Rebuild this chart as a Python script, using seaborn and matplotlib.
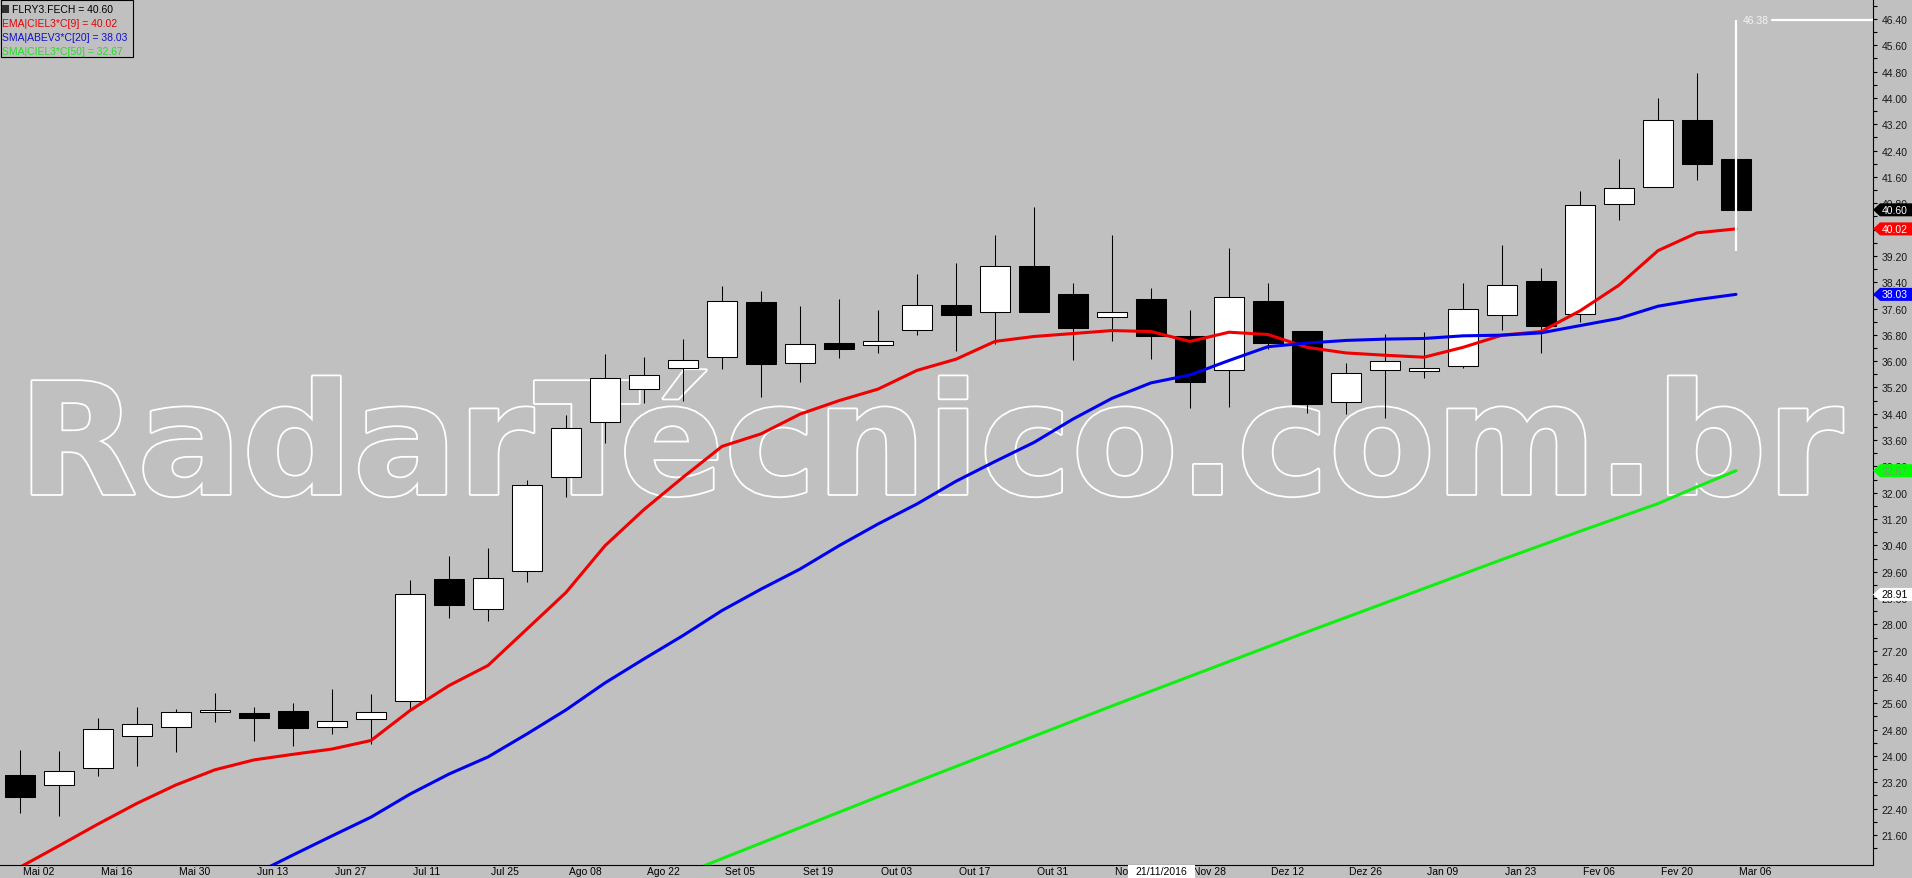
import numpy as np
import pandas as pd
import matplotlib
matplotlib.use("Agg")
import matplotlib.pyplot as plt
import seaborn as sns
from matplotlib.patches import Rectangle, Polygon
from matplotlib import patheffects as pe
from matplotlib.ticker import FixedLocator, FormatStrFormatter
from matplotlib.transforms import ScaledTranslation, blended_transform_factory

# FLRY3 weekly candles, Mai 02 2016 .. Mar 06 2017
WEEKS = ["Mai 02", "Mai 09", "Mai 16", "Mai 23", "Mai 30", "Jun 06", "Jun 13",
         "Jun 20", "Jun 27", "Jul 04", "Jul 11", "Jul 18", "Jul 25", "Ago 01",
         "Ago 08", "Ago 15", "Ago 22", "Ago 29", "Set 05", "Set 12", "Set 19",
         "Set 26", "Out 03", "Out 10", "Out 17", "Out 24", "Out 31", "Nov 07",
         "Nov 14", "Nov 21", "Nov 28", "Dez 05", "Dez 12", "Dez 19", "Dez 26",
         "Jan 02", "Jan 09", "Jan 16", "Jan 23", "Jan 30", "Fev 06", "Fev 13",
         "Fev 20", "Fev 27", "Mar 06"]

OPEN = [23.42, 23.11, 23.62, 24.60, 24.87, 25.33, 25.31, 25.36, 24.87, 25.11,
        25.66, 29.38, 28.47, 29.61, 32.47, 34.14, 35.14, 35.78, 36.14, 37.80,
        35.93, 36.55, 36.48, 36.94, 37.71, 37.49, 38.88, 38.03, 37.33, 37.89,
        36.76, 35.72, 37.83, 36.92, 34.75, 35.72, 35.69, 35.84, 37.39, 38.43,
        37.42, 40.77, 41.29, 43.32, 42.14]
HIGH = [24.18, 24.14, 25.14, 25.49, 25.43, 25.91, 25.49, 25.61, 26.04, 25.88,
        29.35, 30.08, 30.31, 32.39, 34.36, 36.22, 36.13, 36.67, 38.28, 38.13,
        37.68, 37.89, 37.55, 38.65, 38.98, 39.83, 40.69, 38.38, 39.83, 38.22,
        37.56, 39.44, 38.38, 36.92, 35.93, 36.83, 36.88, 38.38, 39.53, 38.82,
        41.16, 42.14, 44.00, 44.76, 42.14]
LOW = [22.28, 22.16, 23.40, 23.68, 24.13, 25.03, 24.44, 24.31, 24.68, 24.35,
       25.38, 28.20, 28.11, 29.30, 31.88, 33.52, 34.73, 34.79, 35.77, 34.92,
       35.38, 36.10, 36.26, 36.80, 36.32, 36.52, 37.48, 36.05, 36.61, 36.08,
       34.59, 34.62, 36.37, 34.41, 34.40, 34.27, 35.48, 35.78, 36.96, 36.26,
       37.18, 40.30, 41.29, 41.52, 40.60]
CLOSE = [22.76, 23.53, 24.81, 24.96, 25.35, 25.39, 25.16, 24.86, 25.05, 25.33,
         28.91, 28.60, 29.40, 32.23, 33.96, 35.48, 35.57, 36.03, 37.82, 35.92,
         36.51, 36.38, 36.61, 37.70, 37.41, 38.88, 37.48, 37.02, 37.50, 36.75,
         35.38, 37.94, 36.56, 34.71, 35.63, 35.99, 35.78, 37.60, 38.33, 37.06,
         40.74, 41.25, 43.32, 42.00, 40.60]

# indicator lines
EMA9 = [20.62, 21.27, 21.93, 22.56, 23.12, 23.58, 23.88, 24.05, 24.21, 24.47,
        25.38, 26.14, 26.75, 27.86, 28.97, 30.39, 31.49, 32.47, 33.41, 33.79,
        34.39, 34.80, 35.15, 35.72, 36.06, 36.60, 36.75, 36.84, 36.93, 36.90,
        36.60, 36.88, 36.81, 36.42, 36.25, 36.18, 36.12, 36.42, 36.79, 36.90,
        37.53, 38.31, 39.36, 39.90, 40.02]
SMA20_START = 6
SMA20 = [20.40, 20.99, 21.57, 22.14, 22.84, 23.45, 23.97, 24.67, 25.40, 26.22,
         26.95, 27.66, 28.42, 29.07, 29.68, 30.39, 31.05, 31.66, 32.35, 32.95,
         33.53, 34.24, 34.87, 35.34, 35.58, 36.02, 36.44, 36.55, 36.63, 36.67,
         36.69, 36.77, 36.79, 36.86, 37.08, 37.30, 37.67, 37.87, 38.03]
SMA50_START = 17
SMA50 = [20.40, 20.88, 21.35, 21.82, 22.29, 22.76, 23.22, 23.68, 24.14, 24.60,
         25.06, 25.52, 25.97, 26.42, 26.87, 27.32, 27.77, 28.21, 28.65, 29.09,
         29.53, 29.97, 30.40, 30.83, 31.25, 31.67, 32.18, 32.67]

PRICE_TICKS = [round(21.6 + 0.8 * k, 2) for k in range(32)]   # 21.60 .. 46.40

LEGEND = [("FLRY3.FECH = 40.60", "#000000"),
          ("EMA|CIEL3*C[9] = 40.02", "#e80000"),
          ("SMA|ABEV3*C[20] = 38.03", "#1010c8"),
          ("SMA|CIEL3*C[50] = 32.67", "#22e022")]
# right-axis value tags: value, face, text colour
TAGS = [(40.60, "#000000", "white"), (40.02, "#ff0000", "white"),
        (38.03, "#0000ff", "white"), (32.67, "#00ff00", "#7a9a7a"),
        (28.91, "#ffffff", "black")]
CURSOR_DATE = "21/11/2016"
CURSOR_WEEK = 29
DRAW_TOP = 46.38
DRAW_BOTTOM = 39.35

BG = "#c0c0c0"
RED, BLUE, GREEN = "#f00000", "#0000f0", "#11ee11"
W, H, DPI = 1912, 879, 100

sns.set_style("white", {"axes.facecolor": BG, "figure.facecolor": BG})
plt.rcParams["font.family"] = ["Liberation Sans", "DejaVu Sans"]

df = pd.DataFrame({"week": WEEKS, "open": OPEN, "high": HIGH,
                   "low": LOW, "close": CLOSE})
df["x"] = np.arange(len(df))

fig = plt.figure(figsize=(W / DPI, H / DPI), dpi=DPI)
ax = fig.add_axes([0, 13 / H, 1873 / W, 866 / H])
ax.set_facecolor(BG)

# pixel mapping of the original: 39 px per week, 32.9 px per real
ax.set_xlim(-20 / 39, 1853 / 39)
ax.set_ylim(46.4 - 846 / 32.9, 46.4 + 20 / 32.9)

# watermark
ax.text(-0.05, 31.96, "RadarTécnico.com.br", family="DejaVu Sans",
        weight="bold", fontsize=111.6, color=BG, ha="left", va="baseline",
        zorder=0.5,
        path_effects=[pe.withStroke(linewidth=2.6, foreground="white")])

# candles
up = df["close"] >= df["open"]
ax.vlines(df["x"], df["low"], df["high"], color="black", lw=0.75, zorder=2)
body_lo = np.minimum(df["open"], df["close"])
body_h = np.maximum((df["close"] - df["open"]).abs(), 0.04)
ax.bar(df["x"], body_h, bottom=body_lo, width=0.77,
       color=np.where(up, "white", "black"), edgecolor="black",
       linewidth=0.75, zorder=3)

# indicators
sns.lineplot(x=df["x"], y=EMA9, color=RED, lw=2.2, ax=ax, zorder=4)
sns.lineplot(x=df["x"][SMA20_START:], y=SMA20, color=BLUE, lw=2.2, ax=ax,
             zorder=4)
sns.lineplot(x=df["x"][SMA50_START:], y=SMA50, color=GREEN, lw=2.2, ax=ax,
             zorder=4)

# vertical drawing on last bar
last = df["x"].iloc[-1]
ax.plot([last, last], [DRAW_TOP, DRAW_BOTTOM], color="white", lw=1.6,
        zorder=6, solid_capstyle="butt")
ax.plot([last + 0.92, ax.get_xlim()[1]], [DRAW_TOP, DRAW_TOP], color="white",
        lw=1.6, zorder=6)
ax.text(last + 0.18, DRAW_TOP, f"{DRAW_TOP:.2f}", color="#f4f4f4",
        fontsize=7.5, ha="left", va="center", zorder=6)

# axes styling
for s in ["top", "left"]:
    ax.spines[s].set_visible(False)
for s in ["right", "bottom"]:
    ax.spines[s].set_color("black")
    ax.spines[s].set_linewidth(0.8)

ax.yaxis.tick_right()
ax.yaxis.set_major_locator(FixedLocator(PRICE_TICKS))
ax.yaxis.set_minor_locator(FixedLocator([v + 0.4 for v in PRICE_TICKS]
                                        + [21.2]))
ax.yaxis.set_major_formatter(FormatStrFormatter("%.2f"))
ax.tick_params(axis="y", which="both", direction="out", length=3, width=0.8,
               colors="black", labelcolor="#1a1a1a", labelsize=7.5, pad=3)

ax.set_xticks(df["x"][::2])
ax.set_xticklabels(df["week"][::2], ha="left")
ax.tick_params(axis="x", direction="out", length=9.4, width=0.8,
               colors="black", labelsize=7.5, pad=-8.5)
shift = ScaledTranslation(0.03, 0, fig.dpi_scale_trans)
for lbl in ax.get_xticklabels():
    lbl.set_transform(lbl.get_transform() + shift)
ax.set_xlabel("")
ax.set_ylabel("")
ax.grid(False)

# cursor date on the time axis
bt = blended_transform_factory(ax.transData, ax.transAxes)
ax.add_patch(Rectangle((CURSOR_WEEK - 0.59, -13 / 866), 1.72, 13 / 866,
                       transform=bt, facecolor="white", edgecolor="none",
                       clip_on=False, zorder=7))
ax.text(CURSOR_WEEK + 0.27, -6.5 / 866, CURSOR_DATE, transform=bt,
        fontsize=7.5, color="black", ha="center", va="center",
        clip_on=False, zorder=8)

# value tags on the price axis
tt = blended_transform_factory(fig.transFigure, ax.transData)
hh = 6.5 / 32.9
for val, face, tc in TAGS:
    pts = [(1873 / W, val), (1880 / W, val + hh), (1.0, val + hh),
           (1.0, val - hh), (1880 / W, val - hh)]
    ax.add_patch(Polygon(pts, closed=True, transform=tt, facecolor=face,
                         edgecolor="none", clip_on=False, zorder=7))
    ax.text(1895 / W, val, f"{val:.2f}", transform=tt, color=tc,
            fontsize=7.5, ha="center", va="center", clip_on=False, zorder=8)

# legend box, top left
fig.add_artist(Rectangle((1 / W, 1 - 58 / H), 132 / W, 57 / H,
                         transform=fig.transFigure, fill=False,
                         edgecolor="black", lw=0.8))
fig.add_artist(Rectangle((2 / W, 1 - 14 / H), 7 / W, 8 / H,
                         transform=fig.transFigure, facecolor="#303030",
                         edgecolor="none"))
for k, (txt, col) in enumerate(LEGEND):
    x0 = 12 if k == 0 else 2
    fig.text(x0 / W, 1 - (10 + 14 * k) / H, txt, color=col, fontsize=7.5,
             ha="left", va="center")

fig.savefig("out.png", dpi=DPI, facecolor=BG)
